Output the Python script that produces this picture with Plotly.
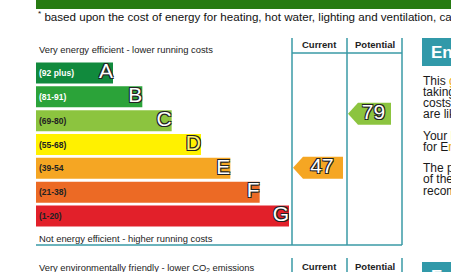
import plotly.graph_objects as go

W, H = 451, 272
FONT = "Liberation Sans, Arial, sans-serif"

# ---- data ----
bands = ["A", "B", "C", "D", "E", "F", "G"]
band_ranges = ["(92 plus)", "(81-91)", "(69-80)", "(55-68)", "(39-54", "(21-38)", "(1-20)"]
band_low = [92, 81, 69, 55, 39, 21, 1]
band_high = [100, 91, 80, 68, 54, 38, 20]
band_rank = [1, 2, 3, 4, 5, 6, 7]
current_score = 47
potential_score = 79

# ---- styles ----
band_colors = ["#118a3d", "#2ba339", "#8cc43f", "#fff100", "#f5a623", "#ec6a25", "#e2202a"]
range_text_colors = ["#ffffff", "#ffffff", "#222222", "#222222", "#222222", "#222222", "#222222"]
letter_colors = ["#ffffff", "#ffffff", "#ffffff", "#fff56e", "#ffffff", "#ffffff", "#ffffff"]
TEAL = "#3a9aa6"
BOX_TEAL = "#3199a9"
OUTLINE = "1px 1px 0 #222, -1px -1px 0 #222, 1px -1px 0 #222, -1px 1px 0 #222"
BAR_OFFSET = 1.625


def px(x):
    return x / W


def py(y):
    return 1 - y / H


def band_index(score):
    for i, (lo, hi) in enumerate(zip(band_low, band_high)):
        if lo <= score <= hi:
            return i
    return len(bands) - 1


def score_row(score):
    i = band_index(score)
    frac = (score - band_low[i]) / (band_high[i] - band_low[i])
    return i - 0.7 * (frac - 0.5)


fig = go.Figure()

# rating bars
fig.add_trace(go.Bar(
    y=list(range(len(bands))),
    x=[r + BAR_OFFSET for r in band_rank],
    base=-BAR_OFFSET,
    orientation="h",
    width=0.88,
    marker=dict(color=band_colors, line=dict(width=0)),
    text=band_ranges,
    textposition="inside",
    insidetextanchor="start",
    textangle=0,
    constraintext="none",
    textfont=dict(size=8.5, color=range_text_colors, family=FONT, weight="bold"),
    xaxis="x2", yaxis="y2", hoverinfo="skip",
))

# band letters
fig.add_trace(go.Scatter(
    x=band_rank, y=list(range(len(bands))),
    mode="text", text=bands, textposition="middle left",
    textfont=dict(size=21, color=letter_colors, family=FONT, shadow=OUTLINE),
    xaxis="x2", yaxis="y2", hoverinfo="skip", cliponaxis=False,
))

# current / potential arrows
arrows = [
    (current_score, 293, 343),
    (potential_score, 348, 391),
]
for score, x_tip, x_end in arrows:
    r = score_row(score)
    h = 0.46
    col = band_colors[band_index(score)]
    fig.add_trace(go.Scatter(
        x=[x_tip, x_tip + 10, x_end, x_end, x_tip + 10, x_tip],
        y=[r, r - h, r - h, r + h, r + h, r],
        mode="lines", fill="toself", fillcolor=col, line=dict(width=0, color=col),
        xaxis="x", yaxis="y2", hoverinfo="skip",
    ))
    fig.add_trace(go.Scatter(
        x=[(x_tip + 8 + x_end) / 2], y=[r], mode="text", text=[str(score)],
        textposition="middle center",
        textfont=dict(size=21, color="white", family=FONT, shadow=OUTLINE),
        xaxis="x", yaxis="y2", hoverinfo="skip", cliponaxis=False,
    ))

shapes = []
# top green strip
shapes.append(dict(type="rect", xref="paper", yref="paper", x0=px(36), x1=px(460),
                   y0=py(-2), y1=py(9), fillcolor="#277b12", line=dict(width=0)))
# frame lines of upper table
for xv in [292, 347, 402]:
    shapes.append(dict(type="line", xref="paper", yref="paper", x0=px(xv), x1=px(xv),
                       y0=py(38), y1=py(245), line=dict(color=TEAL, width=1.5)))
shapes.append(dict(type="line", xref="paper", yref="paper", x0=px(292), x1=px(402),
                   y0=py(53), y1=py(53), line=dict(color=TEAL, width=1.5)))
shapes.append(dict(type="line", xref="paper", yref="paper", x0=px(36), x1=px(402),
                   y0=py(245), y1=py(245), line=dict(color=TEAL, width=1.5)))
# lower table
for xv in [292, 347, 402]:
    shapes.append(dict(type="line", xref="paper", yref="paper", x0=px(xv), x1=px(xv),
                       y0=py(258), y1=py(280), line=dict(color=TEAL, width=1.5)))
# teal title boxes
shapes.append(dict(type="rect", xref="paper", yref="paper", x0=px(422), x1=px(470),
                   y0=py(38), y1=py(66), fillcolor=BOX_TEAL, line=dict(width=0)))
shapes.append(dict(type="rect", xref="paper", yref="paper", x0=px(422), x1=px(470),
                   y0=py(262), y1=py(295), fillcolor=BOX_TEAL, line=dict(width=0)))

ann = []


def text(x, y, s, size, color="#222222", bold=False, anchor="left"):
    ann.append(dict(x=px(x), y=py(y), xref="paper", yref="paper", text=s, showarrow=False,
                    xanchor=anchor, yanchor="middle",
                    font=dict(size=size, color=color, family=FONT, weight="bold" if bold else "normal")))


text(36, 16, "<sup>*</sup> based upon the cost of energy for heating, hot water, lighting and ventilation, calculated", 11.6, "#111111")
text(37, 49, "Very energy efficient - lower running costs", 9.4)
text(37, 238, "Not energy efficient - higher running costs", 9.4)
text(319.5, 45, "Current", 9.5, bold=True, anchor="center")
text(374.5, 45, "Potential", 9.5, bold=True, anchor="center")
text(37, 268, "Very environmentally friendly - lower CO<sub>2</sub> emissions", 9.4)
text(319.5, 266, "Current", 9.5, bold=True, anchor="center")
text(374.5, 266, "Potential", 9.5, bold=True, anchor="center")
text(429, 52, "Energy Efficiency Rating", 17, "#ffffff", bold=True)
text(429, 276, "Environmental Impact", 17, "#ffffff", bold=True)

right_lines = [
    (81, "This <span style='color:#f0a800'>graph</span> shows the energy efficiency"),
    (92, "taking into account the running"),
    (103, "costs of heating and hot water"),
    (114, "are likely to be"),
    (136, "Your home's current rating"),
    (147, "for E<span style='color:#f0a800'>nergy</span> efficiency"),
    (168, "The potential rating shows"),
    (179, "of the improvements"),
    (191, "recommended"),
]
for y, s in right_lines:
    text(421, y, s, 12, "#1a1a1a")

fig.update_layout(
    width=W, height=H, margin=dict(l=0, r=0, t=0, b=0),
    paper_bgcolor="white", plot_bgcolor="rgba(0,0,0,0)",
    showlegend=False, hovermode=False,
    shapes=shapes, annotations=ann,
    xaxis=dict(range=[0, W], domain=[0, 1], visible=False, fixedrange=True),
    yaxis=dict(visible=False, fixedrange=True),
    xaxis2=dict(domain=[px(36), px(289)], range=[-BAR_OFFSET, 7], visible=False,
                anchor="y2", fixedrange=True),
    yaxis2=dict(domain=[py(228), py(61)], range=[6.5, -0.5], visible=False,
                anchor="x2", fixedrange=True),
    bargap=0.12,
)

fig.write_html("out.html")
